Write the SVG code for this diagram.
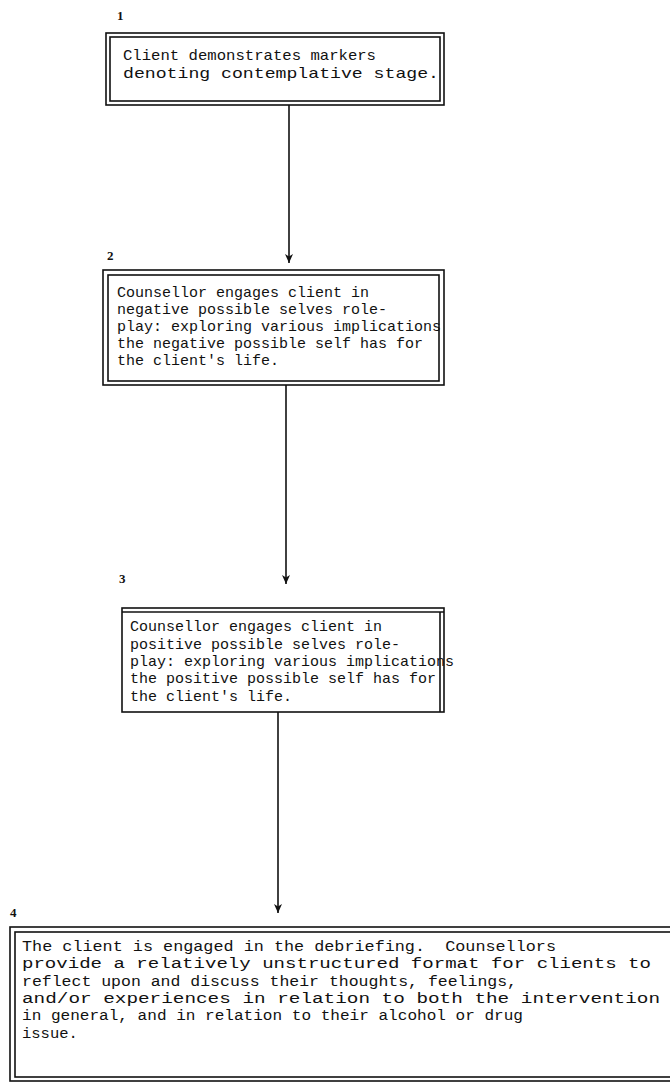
<svg xmlns="http://www.w3.org/2000/svg" width="670" height="1083" viewBox="0 0 670 1083">
<defs>
<style>
.t{font-family:"Liberation Mono","DejaVu Sans Mono",monospace;font-size:15px;fill:#111}
.t4{font-family:"Liberation Mono","DejaVu Sans Mono",monospace;font-size:15.5px;fill:#111;white-space:pre}
.n{font-family:"Liberation Serif","Times New Roman",serif;font-size:13px;font-weight:bold;fill:#111}
.b{fill:none;stroke:#111;stroke-width:1.6}
.c{stroke:#111;stroke-width:1.6;fill:none}
</style>
<marker id="ah" markerWidth="10" markerHeight="10" refX="10" refY="5" orient="auto" markerUnits="userSpaceOnUse" viewBox="0 0 10 10">
<path d="M1,1 L10,5 L1,9 L3.5,5 Z" fill="#111"/>
</marker>
</defs>
<rect width="670" height="1083" fill="#fff"/>
<g id="connectors">
<line class="c" x1="289" y1="105" x2="289" y2="263" marker-end="url(#ah)"/>
<line class="c" x1="286" y1="385" x2="286" y2="584" marker-end="url(#ah)"/>
<line class="c" x1="278" y1="712" x2="278" y2="913" marker-end="url(#ah)"/>
</g>
<g id="node1">
<text class="n" x="117" y="20">1</text>
<rect class="b" x="106" y="33" width="338" height="72"/>
<rect class="b" x="110" y="37" width="330" height="64"/>
<text class="t" x="123" y="60" textLength="253" lengthAdjust="spacingAndGlyphs">Client demonstrates markers</text>
<text class="t" x="123" y="78" textLength="316" lengthAdjust="spacingAndGlyphs">denoting contemplative stage.</text>
</g>
<g id="node2">
<text class="n" x="107" y="260">2</text>
<rect class="b" x="103" y="270" width="341" height="115"/>
<rect class="b" x="108" y="275" width="331" height="106"/>
<text class="t" x="117" y="297">Counsellor engages client in</text>
<text class="t" x="117" y="314">negative possible selves role-</text>
<text class="t" x="117" y="331">play: exploring various implications</text>
<text class="t" x="117" y="348">the negative possible self has for</text>
<text class="t" x="117" y="365">the client's life.</text>
</g>
<g id="node3">
<text class="n" x="119" y="583">3</text>
<rect class="b" x="122" y="608" width="322" height="104"/>
<line class="b" x1="122" y1="612" x2="444" y2="612"/>
<line class="b" x1="440" y1="612" x2="440" y2="712"/>
<text class="t" x="130" y="631">Counsellor engages client in</text>
<text class="t" x="130" y="649">positive possible selves role-</text>
<text class="t" x="130" y="666">play: exploring various implications</text>
<text class="t" x="130" y="683">the positive possible self has for</text>
<text class="t" x="130" y="701">the client's life.</text>
</g>
<g id="node4">
<text class="n" x="10" y="917">4</text>
<rect class="b" x="10" y="927" width="670" height="154"/>
<rect class="b" x="15" y="932" width="670" height="145"/>
<text class="t4" x="22" y="951" textLength="534" lengthAdjust="spacingAndGlyphs" xml:space="preserve">The client is engaged in the debriefing.  Counsellors</text>
<text class="t4" x="22" y="968" textLength="629" lengthAdjust="spacingAndGlyphs">provide a relatively unstructured format for clients to</text>
<text class="t4" x="22" y="986" textLength="495" lengthAdjust="spacingAndGlyphs">reflect upon and discuss their thoughts, feelings,</text>
<text class="t4" x="22" y="1003" textLength="638" lengthAdjust="spacingAndGlyphs">and/or experiences in relation to both the intervention</text>
<text class="t4" x="22" y="1020" textLength="501" lengthAdjust="spacingAndGlyphs">in general, and in relation to their alcohol or drug</text>
<text class="t4" x="22" y="1038">issue.</text>
</g>
</svg>
